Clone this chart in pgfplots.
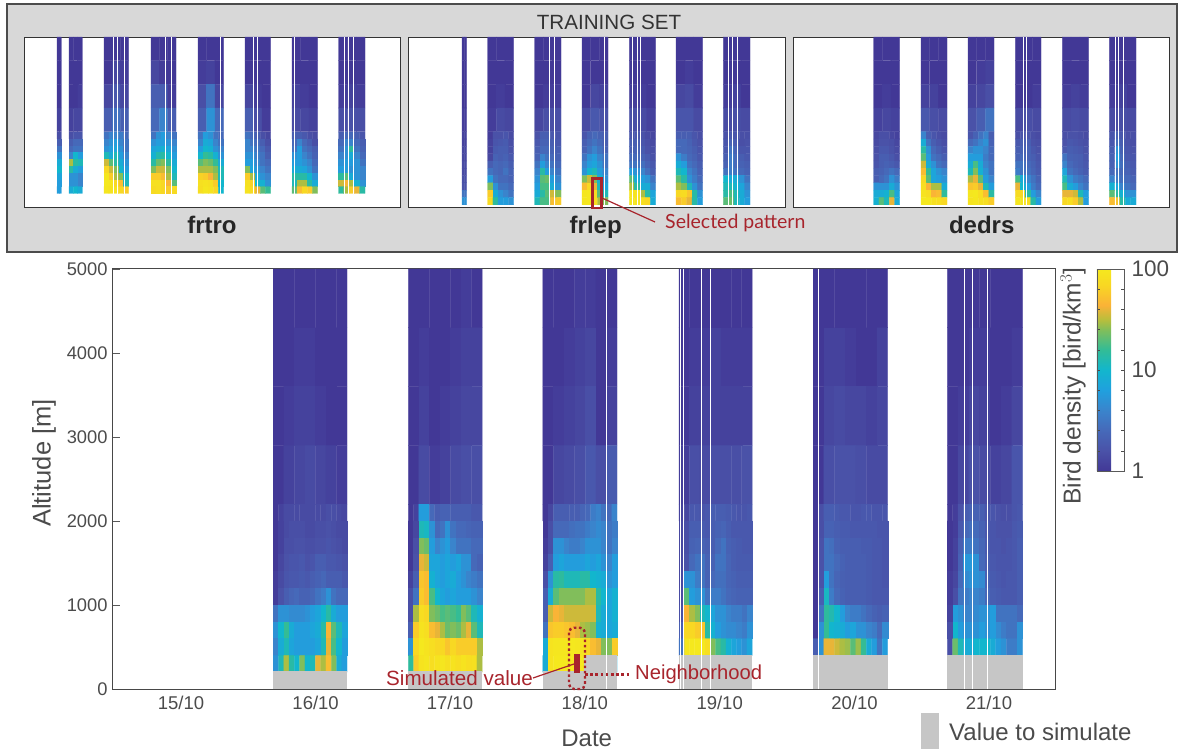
\documentclass[border=0pt]{standalone}
\usepackage{pgfplots}
\pgfplotsset{compat=1.18}
\usepackage{fontspec}
\setmainfont{Liberation Sans}
\newfontfamily\lato{Lato}
\definecolor{tx}{RGB}{75,75,75}
\definecolor{rd}{RGB}{168,36,44}
\definecolor{gr}{RGB}{198,198,198}
\definecolor{pan}{RGB}{216,216,216}
\pgfplotsset{colormap={bird}{rgb255(0)=(66,56,150) rgb255(10)=(74,82,168) rgb255(20)=(70,105,185) rgb255(30)=(58,132,204) rgb255(40)=(32,160,222) rgb255(50)=(18,182,205) rgb255(60)=(50,188,150) rgb255(70)=(130,190,90) rgb255(75)=(185,190,60) rgb255(82)=(250,178,55) rgb255(92)=(248,215,35) rgb255(100)=(245,232,30)}}
\newcommand{\cells}[6]{\addplot[matrix plot*, shader=faceted, faceted color=mapped color, line width=0.25pt, mesh/cols=#3, mesh/ordering=x varies, point meta=explicit, forget plot] table[row sep=\\, header=false, x expr={#1+(#2)/#3*(mod(\coordindex,#3)+0.5)}, y expr={#4-(#5)*floor((\coordindex+0.5)/#3)}, meta expr={log10(\thisrowno{0})}] {#6};}
\newcommand{\wl}[2][0.7pt]{\addplot[white, line width=#1, forget plot] coordinates {(#2,0) (#2,5000)};}
\newcommand{\gbox}[3]{\addplot[fill=gr, draw=none, forget plot] coordinates {(#1,0) (#1,#3) (#2,#3) (#2,0)} --cycle;}
\pgfplotsset{small/.style={scale only axis, width=#1, height=170pt, ymin=0, ymax=5000, ticks=none, point meta min=0, point meta max=2, axis line style={black!80, line width=0.7pt}, axis background/.style={fill=white}, clip=true}}
\begin{document}
\begin{tikzpicture}[x=1pt,y=1pt]
\path[use as bounding box] (0,0) rectangle (1190,752);
\draw[fill=pan, draw=black!70, line width=1.2pt] (7,748) rectangle (1177,500);
\node[text=black!80, font=\fontsize{20.6}{22}\selectfont] at (609,730) {TRAINING SET};
% ---------- frtro
\begin{axis}[small=375.5pt, at={(24.5pt,545pt)}, anchor=south west, xmin=24.5, xmax=400]
\cells{57}{4.3}{2}{4650}{696}{1\\1\\1\\1\\1\\1\\1.2\\1.2\\}
\cells{57}{4.3}{2}{2100}{200}{1.5\\1.5\\2\\2\\3\\3\\5\\5\\8\\8\\10\\10\\7\\7\\6\\6\\6\\6\\}
\cells{69}{13.3}{3}{4650}{696}{1\\1\\1\\1\\1\\1\\1\\1\\1.1\\1.2\\1.3\\1.3\\}
\cells{69}{13.3}{3}{2100}{200}{1.5\\1.7\\1.7\\2\\2.5\\2.5\\2.5\\3\\3\\4\\10\\6\\30\\14\\12\\14\\8\\6\\5\\5\\4\\5\\5\\4\\8\\10\\8\\}
\cells{104}{24.5}{3}{4650}{696}{1\\1\\1\\1\\1.3\\1.1\\1.3\\1.8\\1.3\\2\\3\\2\\}
\cells{104}{24.5}{5}{2100}{200}{3\\4\\4\\3.5\\2.5\\4\\5\\6\\4\\3\\5\\6\\7\\5\\3\\12\\8\\12\\6\\4\\35\\20\\14\\8\\5\\70\\35\\25\\10\\6\\95\\60\\30\\25\\10\\100\\95\\70\\50\\12\\95\\90\\90\\70\\60\\}
\cells{151}{25}{3}{4650}{696}{1\\1\\1\\1.3\\1.1\\1\\2\\2\\1.1\\2.5\\4\\2\\}
\cells{151}{25}{5}{2100}{200}{3\\5\\6\\4\\3\\5\\6\\6\\5\\4\\7\\8\\9\\7\\5\\9\\13\\14\\10\\6\\14\\22\\25\\15\\8\\25\\35\\35\\25\\10\\60\\60\\50\\30\\12\\85\\85\\70\\45\\20\\75\\80\\70\\60\\75\\}
\cells{198}{25.5}{3}{4650}{696}{1\\1\\1\\1.1\\1.2\\1\\1.5\\3\\1.3\\2\\5\\2.5\\}
\cells{198}{25.5}{5}{2100}{200}{3\\6\\5\\3\\2.5\\4\\8\\7\\4\\3\\6\\10\\9\\5\\4\\10\\16\\14\\9\\5\\20\\25\\22\\16\\8\\30\\30\\30\\25\\12\\65\\60\\45\\30\\12\\85\\90\\85\\60\\10\\80\\95\\90\\70\\10\\}
\cells{245}{25.5}{3}{4650}{696}{1\\1\\1\\1\\1\\1\\1.3\\1.1\\1\\2\\1.5\\1.1\\}
\cells{245}{25.5}{5}{2100}{200}{3\\2.5\\2\\1.5\\1.3\\4\\3\\2.5\\2\\1.5\\4\\4\\3\\2.5\\1.8\\5\\5\\3.5\\3\\2\\6\\6\\4\\3\\2.5\\25\\7\\5\\4\\3\\60\\30\\7\\5\\4\\85\\65\\10\\9\\5\\90\\75\\40\\20\\16\\}
\cells{292}{25.5}{3}{4650}{696}{1\\1\\1\\1\\1\\1\\1.2\\1.1\\1\\1.4\\1.3\\1.2\\}
\cells{292}{25.5}{5}{2100}{200}{2\\2\\1.8\\1.5\\1.4\\2.5\\4\\2.5\\2\\1.5\\3\\6\\3\\2.5\\2\\5\\6\\4\\3\\2.2\\6\\6\\5\\4\\2.5\\8\\8\\7\\5\\3\\14\\14\\14\\10\\5\\12\\30\\30\\14\\8\\20\\50\\70\\60\\25\\}
\cells{338.5}{26.5}{3}{4650}{696}{1\\1\\1\\1\\1\\1\\1.1\\1.2\\1.1\\1.5\\1.6\\1.5\\}
\cells{338.5}{26.5}{5}{2100}{200}{2\\2.5\\2.5\\2\\1.7\\2.5\\4\\4\\2.5\\2\\3\\5\\15\\3\\2.2\\4\\5\\8\\4\\2.5\\5\\6\\6\\5\\3\\6\\6\\5\\5\\4\\15\\20\\8\\5\\4\\35\\45\\30\\9\\5\\15\\30\\60\\40\\14\\}
\wl[1.2pt]{124.5}\wl{113.3}\wl{117.3}\wl{165.3}\wl{171.3}\wl{220}\wl{253}\wl{257}\wl{294.3}\wl{344.7}\wl{348.7}\wl{353.3}
\end{axis}
% ---------- frlep
\begin{axis}[small=377pt, at={(408pt,545pt)}, anchor=south west, xmin=408, xmax=785]
\cells{462}{4.5}{2}{4650}{696}{1\\1\\1\\1\\1\\1\\1.1\\1.1\\}
\cells{462}{4.5}{2}{2107}{215}{1.2\\1.2\\1.2\\1.2\\1.3\\1.3\\1.3\\1.3\\1.4\\1.4\\1.4\\1.4\\1.5\\1.5\\1.6\\1.6\\3\\3\\5\\5\\}
\cells{487.7}{26}{3}{4650}{696}{1\\1\\1\\1\\1\\1\\1\\1.1\\1\\1.1\\1.4\\1.3\\}
\cells{487.7}{26}{5}{2107}{215}{1.1\\1.6\\1.6\\1.7\\1.4\\1.2\\1.7\\1.8\\1.9\\1.5\\1.2\\1.9\\2\\2\\1.6\\1.3\\2.2\\2\\2.2\\1.8\\2\\2.5\\2.3\\2.5\\2\\3\\2.5\\2.3\\3\\2.2\\6\\3\\2.5\\2.5\\2.2\\25\\5\\3\\3\\2.5\\60\\8\\5\\4\\3\\75\\15\\6\\6\\5\\}
\cells{534.7}{26.3}{3}{4650}{696}{1\\1\\1\\1\\1\\1\\1\\1.1\\1.1\\1.3\\1.5\\1.5\\}
\cells{534.7}{26.3}{5}{2107}{215}{1.6\\2\\2\\1.8\\1.7\\1.8\\2.2\\2.2\\2\\1.8\\2\\2.5\\2.5\\2.2\\2\\2.2\\4\\3\\2.5\\2.2\\3\\6\\4\\3\\2.5\\4\\14\\6\\4\\3\\5\\20\\22\\6\\4\\6\\18\\18\\8\\5\\8\\14\\20\\35\\25\\12\\18\\18\\50\\60\\}
\cells{582}{26}{3}{4650}{696}{1\\1\\1\\1\\1\\1\\1\\1.3\\1.2\\1.4\\1.8\\1.6\\}
\cells{582}{26}{5}{2107}{215}{1.7\\2.2\\2.5\\2.2\\2\\2\\2.5\\3\\2.5\\2\\2.2\\3\\4\\3\\2.2\\3\\5\\6\\4\\3\\4\\6\\7\\5\\3\\5\\10\\12\\6\\4\\25\\35\\25\\9\\5\\50\\70\\40\\12\\7\\95\\100\\80\\20\\12\\95\\100\\80\\30\\25\\}
\cells{629.3}{26.2}{3}{4650}{696}{1\\1\\1\\1\\1\\1\\1.1\\1.1\\1\\1.5\\1.4\\1.2\\}
\cells{629.3}{26.2}{5}{2107}{215}{1.7\\1.8\\1.6\\1.4\\1.3\\2\\2\\1.7\\1.5\\1.4\\2\\2.2\\1.9\\1.6\\1.5\\2.5\\2.5\\2.2\\1.9\\1.6\\3\\3\\2.8\\2.2\\1.8\\6\\5\\4\\2.8\\2\\20\\8\\6\\5\\3\\30\\14\\8\\8\\4\\95\\90\\30\\14\\7\\95\\95\\80\\70\\8\\}
\cells{676}{26.7}{3}{4650}{696}{1\\1\\1\\1\\1.1\\1\\1.3\\1.4\\1.1\\1.7\\1.7\\1.4\\}
\cells{676}{26.7}{5}{2107}{215}{2\\2\\2\\1.7\\1.5\\2.5\\2.5\\2.2\\1.8\\1.6\\2.5\\2.5\\2.3\\2\\1.7\\5\\3.5\\2.5\\2.2\\1.8\\8\\6\\3\\2.5\\2\\12\\10\\4\\3\\2.2\\20\\14\\5\\3.5\\2.5\\30\\25\\12\\5\\3\\70\\75\\55\\14\\5\\50\\60\\40\\14\\6\\}
\cells{723.3}{26.7}{3}{4650}{696}{1\\1\\1\\1\\1\\1\\1.1\\1.2\\1\\1.4\\1.5\\1.4\\}
\cells{723.3}{26.7}{5}{2107}{215}{1.6\\1.8\\1.7\\1.5\\1.5\\1.7\\2.2\\1.9\\1.5\\1.6\\1.8\\3\\2.2\\1.7\\1.7\\2\\3.5\\2.5\\2\\1.8\\2.2\\3.5\\2.5\\2.2\\2\\3\\3.5\\3\\2.5\\2.2\\10\\8\\8\\5\\3\\12\\12\\9\\7\\4\\14\\18\\12\\8\\5\\20\\22\\12\\8\\6\\}
\wl{549}\wl{554}\wl{604}\wl{632.3}\wl{637.3}\wl{640.7}\wl{728.3}\wl{732.3}\wl{737.3}
\end{axis}
% ---------- dedrs
\begin{axis}[small=375.5pt, at={(793.5pt,545pt)}, anchor=south west, xmin=793.5, xmax=1169]
\cells{873.7}{26}{3}{4650}{696}{1\\1\\1\\1\\1\\1\\1\\1.1\\1\\1.2\\1.3\\1.2\\}
\cells{873.7}{26}{5}{2107}{215}{1.3\\1.5\\1.5\\1.3\\1.2\\1.4\\1.6\\1.6\\1.5\\1.3\\1.5\\1.8\\1.8\\1.6\\1.4\\1.6\\2\\2\\1.8\\1.5\\1.7\\2\\2.2\\2\\1.8\\2\\2.2\\2.5\\3\\2.5\\2\\2.5\\3\\5\\3.5\\5\\5\\5\\8\\5\\8\\8\\9\\18\\7\\9\\20\\12\\40\\8\\}
\cells{921}{26}{3}{4650}{696}{1\\1\\1\\1\\1\\1\\1.2\\1.2\\1\\1.8\\1.5\\1.4\\}
\cells{921}{26}{5}{2107}{215}{4\\2\\1.7\\1.5\\1.4\\8\\3\\2\\1.7\\1.5\\14\\5\\2.5\\2\\1.7\\20\\6\\3\\2.5\\2\\35\\8\\5\\3\\2.5\\50\\16\\7\\5\\4\\70\\20\\7\\6\\5\\80\\45\\30\\30\\8\\90\\80\\45\\50\\15\\100\\100\\85\\80\\70\\}
\cells{968}{26}{3}{4650}{696}{1\\1\\1\\1\\1.1\\1.2\\1.2\\1.3\\1.5\\1.6\\2\\3\\}
\cells{968}{26}{5}{2107}{215}{1.7\\2.2\\3\\4\\2\\2.5\\3\\4\\5\\2.2\\4\\5\\5\\4\\2.5\\6\\6\\6\\3.5\\2.5\\8\\18\\8\\4\\3\\12\\25\\9\\5\\3\\30\\40\\20\\6\\4\\55\\60\\40\\12\\6\\95\\100\\80\\50\\14\\90\\95\\85\\80\\60\\}
\cells{1015.3}{25.7}{3}{4650}{696}{1\\1\\1\\1\\1\\1\\1\\1\\1.1\\1.4\\1.5\\1.4\\}
\cells{1015.3}{25.7}{5}{2107}{215}{1.5\\1.7\\1.7\\1.5\\1.4\\1.8\\2\\2\\1.6\\1.5\\2\\2.2\\2.2\\1.8\\1.6\\2.2\\2.5\\2.2\\2\\1.7\\3\\3\\2.5\\2.2\\1.8\\3.5\\3\\2.8\\2.3\\1.9\\18\\8\\4\\3\\2.2\\40\\10\\6\\3.5\\2.5\\75\\70\\14\\6\\4\\95\\95\\80\\14\\6\\}
\cells{1062.3}{26.4}{3}{4650}{696}{1\\1\\1\\1\\1\\1\\1.1\\1.2\\1.1\\1.4\\1.5\\1.4\\}
\cells{1062.3}{26.4}{5}{2107}{215}{1.5\\1.6\\1.6\\1.5\\1.4\\1.6\\1.8\\1.7\\1.6\\1.5\\1.8\\2\\1.9\\1.8\\1.6\\3\\2.2\\2.1\\2\\1.7\\4\\2.5\\2.2\\2\\1.8\\7\\3\\2.5\\2.2\\1.9\\12\\5\\3.5\\3\\2.5\\18\\8\\6\\4\\3\\40\\40\\35\\12\\6\\70\\80\\60\\30\\6\\}
\cells{1109.3}{26.7}{3}{4650}{696}{1\\1\\1\\1\\1\\1\\1.1\\1.2\\1\\1.4\\1.5\\1.4\\}
\cells{1109.3}{26.7}{5}{2107}{215}{1.7\\2.2\\1.8\\1.5\\1.5\\1.8\\2.8\\2\\1.6\\1.5\\2\\5\\2.2\\1.7\\1.6\\2.2\\6\\2.5\\1.8\\1.7\\2.2\\5\\2.8\\2\\1.8\\2.5\\3\\2.5\\2.2\\1.9\\4\\3.5\\2.8\\2.5\\2.2\\9\\7\\4\\3\\2.5\\20\\14\\9\\5\\5\\50\\55\\14\\8\\8\\}
\wl{1023}\wl{1026.7}\wl{1115.3}\wl{1118.7}\wl{1123.3}
\end{axis}
% ---------- main
\begin{axis}[scale only axis, width=943pt, height=420pt, at={(112pt,63pt)}, anchor=south west,
 xmin=14.54, xmax=21.5, ymin=0, ymax=5000,
 xtick={15.049,16.043,17.034,18.03,19.025,20.02,21.012}, xticklabels={15/10,16/10,17/10,18/10,19/10,20/10,21/10},
 ytick={0,1000,2000,3000,4000,5000}, yticklabels={0,1000,2000,3000,4000,5000},
 tick align=inside, ytick pos=left, xtick style={draw=none}, ytick style={draw=black!65, line width=0.7pt},
 major tick length=8pt,
 xticklabel style={font=\fontsize{18.5}{20}\selectfont, text=tx, yshift=-4pt},
 yticklabel style={font=\fontsize{18.3}{20}\selectfont, text=tx, xshift=-1pt},
 axis line style={black!72, line width=1pt},
 point meta min=0, point meta max=2,
 colorbar,
 colorbar style={at={(1.0445,1)}, anchor=north west, scale only axis, width=27pt, height=202pt,
  ytick={0,1,2}, yticklabels={1,10,100}, minor ytick={0.2,0.4,0.6,0.8,1.2,1.4,1.6,1.8},
  yticklabel style={font=\fontsize{22.5}{24}\selectfont, text=tx, xshift=4pt},
  tick align=inside, major tick length=3pt, minor tick length=3pt,
  tick style={draw=black!70},
  axis line style={black!65, line width=0.8pt}}
]
% 16/10
\cells{15.73}{0.545}{7}{4650}{700}{1\\1\\1\\1\\1\\1\\1\\1\\1\\1.1\\1.1\\1\\1\\1\\1\\1.1\\1.2\\1.2\\1.1\\1\\1\\1\\1.2\\1.3\\1.4\\1.3\\1.2\\1.1\\}
\cells{15.73}{0.545}{14}{2100}{200}{
1\\1.2\\1.4\\1.4\\1.4\\1.4\\1.4\\1.4\\1.4\\1.4\\1.5\\1.5\\1.4\\1.3\\
1\\1.2\\1.4\\1.5\\1.5\\1.5\\1.4\\1.4\\1.5\\1.5\\1.6\\1.5\\1.4\\1.4\\
1\\1.2\\1.5\\1.5\\1.6\\1.6\\1.5\\1.5\\1.6\\1.6\\1.7\\1.6\\1.5\\1.4\\
1\\1.3\\1.6\\1.7\\1.7\\1.8\\1.6\\1.7\\2\\2\\1.8\\1.8\\1.7\\1.6\\
1.1\\1.4\\1.7\\1.8\\1.8\\1.9\\1.8\\2\\2.2\\2.4\\2\\2\\2\\1.8\\
1.1\\1.6\\2\\2.3\\2.5\\2.2\\2.2\\2.4\\3\\3.5\\5\\3\\2.5\\2.5\\
3\\5\\5\\4.5\\4.5\\4.5\\5\\6\\7\\10\\14\\8\\6\\6\\
5\\10\\16\\8\\6\\6\\6\\7\\8\\14\\45\\20\\12\\7\\
4\\8\\12\\7\\6\\6\\6\\6\\7\\12\\40\\18\\10\\6\\
5\\12\\30\\14\\10\\25\\10\\12\\40\\30\\50\\25\\8\\6\\}
% 17/10
\cells{16.727}{0.545}{7}{4650}{700}{1\\1\\1\\1\\1\\1.1\\1\\1\\1.1\\1\\1\\1.1\\1.2\\1.2\\1\\1.2\\1\\1.1\\1.2\\1.3\\1.3\\1\\1.4\\1.1\\1.2\\1.4\\1.5\\1.5\\}
\cells{16.727}{0.545}{14}{2100}{200}{
1\\1.2\\6\\6\\2.5\\2\\2.2\\2.2\\2\\2\\2\\2\\1.8\\1.8\\
1\\1.3\\12\\11\\5\\2.5\\3\\5\\3\\2.5\\2.5\\2.3\\2.2\\2.2\\
1\\1.5\\25\\22\\6\\4\\5\\6\\4\\3\\3\\3\\2.5\\2.5\\
1\\1.6\\40\\35\\7\\7\\6\\7\\6\\7\\5\\5\\2.5\\2.2\\
1.2\\2\\55\\50\\9\\7\\6\\7\\8\\6\\5\\4\\3.5\\3\\
1.5\\3\\60\\50\\18\\10\\7\\6\\7\\6\\6\\6\\5\\4\\
1.5\\30\\80\\70\\25\\22\\18\\20\\18\\16\\25\\20\\12\\9\\
2\\60\\90\\80\\50\\40\\30\\22\\25\\22\\30\\40\\20\\12\\
5\\70\\100\\90\\80\\70\\70\\55\\70\\60\\60\\60\\60\\30\\
15\\60\\90\\95\\80\\90\\95\\85\\90\\80\\90\\80\\85\\30\\}
% 18/10
\cells{17.72}{0.548}{7}{4650}{700}{1\\1\\1\\1.1\\1.1\\1\\1\\1\\1\\1.1\\1.2\\1.3\\1\\1.1\\1\\1.1\\1.2\\1.3\\1.5\\1\\1.2\\1\\1.3\\1.4\\1.5\\1.8\\1.5\\1.9\\}
\cells{17.72}{0.548}{14}{2100}{200}{
1\\1.3\\2\\2\\2\\2\\2\\2.3\\2.5\\3.5\\4\\3\\2.5\\4\\
1\\1.5\\2.5\\2.5\\2.5\\2.8\\3\\3\\3.5\\4\\4.5\\4\\3\\3.5\\
1.1\\1.5\\5\\5\\4\\3.5\\3.5\\4\\5\\5\\5\\4\\3\\4\\
1.2\\2\\6\\7\\6\\6\\6\\6\\7\\6\\7\\5\\4\\6\\
1.5\\5\\14\\15\\12\\12\\12\\14\\14\\10\\9\\8\\5\\6\\
2\\8\\20\\25\\25\\25\\25\\25\\30\\30\\14\\10\\7\\9\\
2\\35\\45\\40\\35\\35\\35\\35\\35\\35\\12\\8\\7\\9\\
3\\55\\60\\60\\55\\50\\40\\30\\28\\25\\9\\8\\7\\8\\
8\\90\\95\\95\\95\\100\\95\\90\\70\\50\\40\\25\\25\\60\\
8\\90\\100\\100\\100\\100\\100\\100\\100\\100\\8\\8\\8\\8\\}
% 19/10
\cells{18.725}{0.54}{7}{4650}{700}{1\\1\\1\\1\\1\\1\\1\\1\\1.1\\1.1\\1.2\\1.1\\1.1\\1.1\\1\\1.2\\1.2\\1.2\\1.2\\1.2\\1.2\\1.1\\1.5\\1.4\\1.5\\1.5\\1.5\\1.6\\}
\cells{18.725}{0.54}{14}{2100}{200}{
1.2\\1.3\\1.8\\1.8\\1.7\\1.8\\2\\2\\2\\1.9\\1.8\\1.7\\1.7\\1.8\\
1.3\\1.5\\2\\2\\1.9\\1.8\\2\\2.2\\2.3\\2\\1.8\\1.8\\1.8\\1.8\\
1.3\\1.5\\2.2\\2.3\\2.2\\2\\2\\2.5\\3\\2.2\\2\\1.9\\1.8\\1.8\\
1.3\\1.6\\2.5\\3\\3\\2.2\\2.2\\3\\3\\2.3\\2\\1.9\\1.9\\1.9\\
1.3\\5\\5\\3.5\\3\\2.2\\2.5\\2.8\\2.8\\2.3\\2.2\\2\\2\\2\\
1.4\\20\\6\\5\\5\\3\\3.5\\3.5\\3\\2.5\\2.3\\2.2\\2.2\\2.2\\
1.5\\45\\30\\25\\12\\10\\7\\5\\5\\4\\3.5\\3.5\\3\\4\\
2\\70\\70\\60\\55\\14\\9\\6\\5\\4.5\\4.5\\4\\3.5\\5\\
3\\95\\100\\100\\100\\80\\25\\18\\14\\9\\7\\6\\5\\7\\}
% 20/10
\cells{19.715}{0.55}{7}{4650}{700}{1\\1\\1\\1\\1\\1\\1\\1\\1.2\\1.2\\1.1\\1\\1\\1.2\\1\\1.3\\1.4\\1.3\\1.3\\1.2\\1.3\\1\\1.5\\1.6\\1.6\\1.5\\1.4\\1.4\\}
\cells{19.715}{0.55}{14}{2100}{200}{
1\\1.5\\2\\2\\1.9\\1.8\\1.8\\1.7\\1.7\\1.8\\1.8\\1.7\\1.7\\1.7\\
1\\1.5\\2.2\\2.2\\2\\1.9\\1.9\\1.8\\1.8\\1.8\\1.8\\1.8\\1.7\\1.7\\
1\\1.6\\3\\2.8\\2.2\\2\\2\\2\\2\\1.9\\1.9\\1.8\\1.8\\1.7\\
1\\1.6\\3\\3\\2.5\\2.2\\2\\2\\2\\2\\1.9\\1.8\\1.8\\1.7\\
1\\1.6\\6\\3\\2.3\\2.1\\2\\2\\2\\2\\1.9\\1.8\\1.8\\1.7\\
1\\2\\11\\3.5\\2.5\\2.2\\2\\2\\2\\2\\1.9\\1.8\\1.8\\1.8\\
1\\3\\15\\13\\10\\6\\4\\3.5\\3.5\\3\\2.5\\2.2\\2\\2.2\\
1\\5\\16\\10\\9\\8\\6\\7\\5\\5\\4\\3.5\\2.5\\4.5\\
2\\5\\40\\40\\35\\30\\28\\20\\28\\16\\8\\6\\3\\6\\}
% 21/10
\cells{20.705}{0.555}{7}{4650}{700}{1\\1\\1\\1\\1\\1\\1\\1\\1\\1.1\\1.1\\1\\1\\1.1\\1\\1.1\\1.3\\1.2\\1\\1.1\\1.3\\1\\1.3\\1.6\\1.4\\1.2\\1.3\\1.7\\}
\cells{20.705}{0.555}{14}{2100}{200}{
1\\1.1\\1.6\\2\\2.2\\2.2\\2\\1.7\\1.7\\1.6\\1.5\\1.5\\1.7\\1.8\\
1\\1.1\\1.8\\2.5\\2.8\\2.6\\2.2\\1.8\\1.7\\1.6\\1.6\\1.6\\1.8\\1.9\\
1\\1.2\\2\\3.5\\3.5\\3\\2.4\\1.9\\1.7\\1.7\\1.6\\1.7\\1.8\\2\\
1\\1.2\\2.2\\5.5\\5.5\\5\\2.5\\2\\1.8\\1.7\\1.7\\1.7\\1.8\\2\\
1.1\\1.3\\2.5\\4.5\\5\\5\\4.5\\2.2\\1.9\\1.8\\1.7\\1.8\\1.8\\2\\
1.1\\1.5\\3\\3.5\\4\\4\\3.5\\2.5\\2\\1.9\\1.8\\1.8\\1.8\\2\\
1.2\\6\\5\\4\\4\\4.5\\5\\5\\6\\3\\3\\3\\3\\2.5\\
1.5\\10\\6\\5\\5\\5\\6\\5\\6\\4.5\\3.5\\3\\3\\5\\
1.5\\22\\12\\8\\8\\10\\10\\10\\8\\6\\5\\3.5\\3.5\\5\\}
% values to simulate
\gbox{15.73}{16.275}{214}
\gbox{16.727}{17.272}{214}
\gbox{17.72}{18.268}{214}
\gbox{18.02}{18.268}{405}
\gbox{18.725}{19.265}{405}
\gbox{19.715}{20.265}{405}
\gbox{20.705}{21.26}{405}
\wl[1.2pt]{18.19}\wl[1.2pt]{18.737}\wl[1.2pt]{18.76}\wl[1.2pt]{18.888}\wl[1.2pt]{18.96}\wl[1.2pt]{19.752}\wl[1.2pt]{20.83}\wl[1.2pt]{20.893}\wl[1.2pt]{21.0}
\end{axis}
% ---------- labels
\node[anchor=base, font=\bfseries\fontsize{24}{26}\selectfont, text=black!85] at (212,518) {frtro};
\node[anchor=base, font=\bfseries\fontsize{24}{26}\selectfont, text=black!85] at (595.7,518) {frlep};
\node[anchor=base, font=\bfseries\fontsize{24}{26}\selectfont, text=black!85] at (981.7,518) {dedrs};
\node[rotate=90, font=\fontsize{25.5}{27}\selectfont, text=tx] at (44,289) {Altitude [m]};
\node[font=\fontsize{24}{26}\selectfont, text=tx] at (586.7,14) {Date};
\node[rotate=90, font=\fontsize{24.5}{26}\selectfont, text=tx] at (1073,366) {Bird density [bird/km$^3$]};
\fill[gr] (921,39) rectangle (938.5,3.5);
\node[anchor=west, inner sep=0pt, font=\fontsize{24}{26}\selectfont, text=tx] at (949,20) {Value to simulate};
% ---------- annotations
\draw[rd, line width=2.6pt] (592.7,573.3) rectangle (601.7,544);
\draw[rd, line width=1.2pt] (602,554) -- (655,530);
\node[anchor=west, inner sep=0pt, text=rd, font=\lato\fontsize{19.5}{21}\selectfont] at (665,529) {Selected pattern};
\draw[rd, line width=2.4pt, dash pattern=on 2.6pt off 2.6pt, rounded corners=5pt] (569,124.3) rectangle (585,63);
\fill[rd] (574,98) rectangle (580,79.3);
\draw[rd, line width=1.2pt] (533,74) -- (574,88);
\draw[rd, line width=2.4pt, dash pattern=on 2.6pt off 2.6pt] (585,77.5) -- (630,77.5);
\node[anchor=east, inner sep=0pt, text=rd, font=\fontsize{20.6}{22}\selectfont] at (533,74) {Simulated value};
\node[anchor=west, inner sep=0pt, text=rd, font=\fontsize{20.2}{22}\selectfont] at (635,77.5) {Neighborhood};
\end{tikzpicture}
\end{document}
